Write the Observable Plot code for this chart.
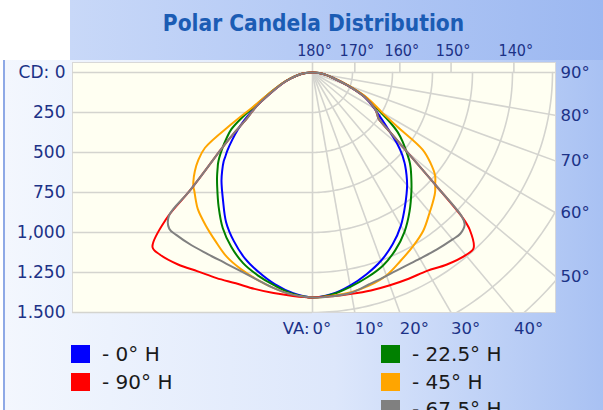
<!DOCTYPE html>
<html><head><meta charset="utf-8">
<script src="https://cdn.jsdelivr.net/npm/d3@7"></script>
<script src="https://cdn.jsdelivr.net/npm/@observablehq/plot@0.6"></script>
<style>
html,body{margin:0;padding:0;background:#fff;}
#wrap{position:relative;width:603px;height:410px;overflow:hidden;background:#fff;font-family:"DejaVu Sans",sans-serif;}
#bandTop{position:absolute;left:70px;top:0;width:533px;height:62px;background:linear-gradient(to right,#c8d8f8,#9cb8f1);}
#bandMain{position:absolute;left:3px;top:60px;width:600px;height:350px;background:linear-gradient(to right,#f3f7fe,#dde7fb 55%,#a8c1f3);border-left:2px solid #8ea9e6;}
#title{position:absolute;left:72px;width:483px;top:10px;text-align:center;font-family:"DejaVu Sans Condensed","DejaVu Sans",sans-serif;font-weight:bold;font-size:22.5px;color:#1b5cb4;line-height:26px;}
#chart{position:absolute;left:0;top:36px;}
.leg{position:absolute;height:22px;line-height:22px;font-size:20px;color:#1a1a1a;white-space:nowrap;}
.leg span.sw{display:inline-block;width:19px;height:18px;vertical-align:middle;margin-right:12px;position:relative;top:-2px;}
</style></head>
<body>
<div id="wrap">
  <div id="bandTop"></div>
  <div id="bandMain"></div>
  <div id="title">Polar Candela Distribution</div>
  <div id="chart"></div>
  <div id="legend"></div>
</div>
<script>
// ---- data (candela per vertical angle, left and right halves) ----
const seriesNames = ["0° H", "22.5° H", "45° H", "67.5° H", "90° H"];
const seriesColors = ["#0000ff", "#008000", "#ffa500", "#808080", "#ff0000"];
const vaAngles = [0, 5, 10, 15, 20, 25, 30, 35, 40, 42.5, 45, 46, 47.5, 50, 52.5, 55, 57.5, 60, 65, 70, 75, 80, 85, 90];

const cdH0Left     = [1406, 1385, 1345, 1293, 1236, 1163, 1080, 975, 885, 836, 785, 758, 722, 655, 590, 520, 450, 380, 270, 200, 140, 90, 42, 0];
const cdH0Right    = [1406, 1390, 1352, 1305, 1252, 1185, 1105, 1010, 920, 870, 818, 795, 760, 690, 610, 545, 490, 445, 355, 230, 135, 85, 40, 0];
const cdH22_5Left  = [1406, 1390, 1353, 1314, 1268, 1202, 1122, 1023, 927, 883, 838, 821, 791, 735, 678, 620, 520, 410, 285, 205, 142, 91, 43, 0];
const cdH22_5Right = [1406, 1393, 1360, 1325, 1285, 1225, 1150, 1058, 962, 915, 870, 852, 822, 765, 710, 650, 570, 485, 372, 238, 138, 86, 41, 0];
const cdH45Left    = [1406, 1395, 1370, 1340, 1308, 1270, 1215, 1165, 1115, 1080, 1045, 1034, 1010, 960, 900, 820, 600, 430, 285, 205, 142, 91, 43, 0];
const cdH45Right   = [1406, 1400, 1394, 1378, 1350, 1300, 1255, 1207, 1140, 1110, 1080, 1066, 1040, 1000, 930, 840, 625, 505, 380, 240, 138, 86, 41, 0];
const cdH67_5Left  = [1406, 1395, 1370, 1340, 1320, 1310, 1310, 1318, 1325, 1325, 1270, 1075, 915, 745, 610, 500, 440, 380, 270, 200, 140, 90, 42, 0];
const cdH67_5Right = [1406, 1404, 1398, 1370, 1352, 1342, 1343, 1352, 1362, 1367, 1345, 1300, 1050, 770, 610, 505, 478, 450, 358, 230, 135, 85, 40, 0];
const cdH90Left    = [1406, 1402, 1400, 1400, 1402, 1418, 1435, 1465, 1485, 1480, 1290, 1075, 915, 745, 610, 500, 440, 380, 270, 200, 140, 90, 42, 0];
const cdH90Right   = [1406, 1404, 1405, 1410, 1415, 1422, 1432, 1465, 1490, 1490, 1390, 1300, 1050, 770, 610, 505, 478, 450, 358, 230, 135, 85, 40, 0];

const seriesLeft  = [cdH0Left, cdH22_5Left, cdH45Left, cdH67_5Left, cdH90Left];
const seriesRight = [cdH0Right, cdH22_5Right, cdH45Right, cdH67_5Right, cdH90Right];
const drawOrder = [0, 1, 2, 4, 3];

const cdTicks = [0, 250, 500, 750, 1000, 1250, 1500];
const cdTickLabels = ["CD: 0", "250", "500", "750", "1,000", "1.250", "1.500"];
const vaBottomTicks = [0, 10, 20, 30, 40];
const vaTopTicks = [180, 170, 160, 150, 140];
const vaRightTicks = [90, 80, 70, 60, 50];
const vaGrid = [0, 10, 20, 30, 40, 50, 60, 70, 80, 90];
const ringGrid = [250, 500, 750, 1000, 1250, 1500, 1750, 2000, 2250, 2500];

// legend layout: [series index, column, row]
const legendItems = [[0, 0, 0], [4, 0, 1], [1, 1, 0], [2, 1, 1], [3, 1, 2]];

// ---- build ----
const deg = Math.PI / 180;
const xMin = -1500, xMax = 1518.75, yTop = -62.5, yBot = 1500;

const curvePts = [];
drawOrder.forEach(si => {
  const L = seriesLeft[si], R = seriesRight[si];
  const left = vaAngles.map((a, i) => ({s: si, x: -L[i] * Math.sin(a * deg), y: L[i] * Math.cos(a * deg)})).reverse();
  const right = vaAngles.slice(1).map((a, i) => ({s: si, x: R[i + 1] * Math.sin(a * deg), y: R[i + 1] * Math.cos(a * deg)}));
  curvePts.push(...left, ...right);
});

const arcPts = ringGrid.flatMap(r => d3.range(0, 90.001, 1).map(a => ({r, x: r * Math.sin(a * deg), y: r * Math.cos(a * deg)})));

const gridStroke = "#d4d4cf";
const labColor = "#1c3287";

const chart = Plot.plot({
  width: 603, height: 310,
  marginLeft: 72, marginRight: 48, marginTop: 26, marginBottom: 34,
  x: {domain: [xMin, xMax], axis: null},
  y: {domain: [yTop, yBot], reverse: true, axis: null},
  style: {background: "transparent", overflow: "visible"},
  marks: [
    Plot.frame({fill: "#fffff2", stroke: "#d8d8d8"}),
    Plot.ruleY(cdTicks, {y: d => d, x1: xMin, x2: 0, stroke: gridStroke, strokeWidth: 1.6}),
    Plot.line(arcPts, {x: "x", y: "y", z: "r", stroke: gridStroke, strokeWidth: 1.6, clip: true}),
    Plot.link(vaGrid, {x1: 0, y1: 0, x2: a => 4000 * Math.sin(a * deg), y2: a => 4000 * Math.cos(a * deg), stroke: gridStroke, strokeWidth: 1.6, clip: true}),
    Plot.ruleX(vaBottomTicks, {x: a => yBot * Math.tan(a * deg), y1: yTop, y2: 0, stroke: gridStroke, strokeWidth: 1.6}),
    Plot.line(curvePts, {x: "x", y: "y", z: "s", stroke: d => seriesColors[d.s], strokeWidth: 2, curve: "catmull-rom", clip: true}),
    Plot.text(cdTicks, {x: xMin, y: d => d, text: (d, i) => cdTickLabels[i], textAnchor: "end", dx: -7, fill: labColor, fontSize: 17, fontFamily: "DejaVu Sans"}),
    Plot.text(vaRightTicks, {x: xMax, y: a => Math.min(xMax / Math.tan(a * deg), 1e6), text: a => a + "°", textAnchor: "start", dx: 5, fill: labColor, fontSize: 16.5, fontFamily: "DejaVu Sans"}),
    Plot.text(vaBottomTicks, {x: a => yBot * Math.tan(a * deg), y: yBot, text: a => a + "°", textAnchor: "start", dy: 16, fill: labColor, fontSize: 16.5, fontFamily: "DejaVu Sans"}),
    Plot.text(["VA:"], {x: 0, y: yBot, text: d => d, textAnchor: "end", dx: -3, dy: 16, fill: labColor, fontSize: 16.5, fontFamily: "DejaVu Sans"}),
    Plot.text(vaTopTicks, {x: a => yBot * Math.tan((180 - a) * deg), y: yTop, text: a => a + "°", textAnchor: "middle", dx: 2, dy: -12, fill: labColor, fontSize: 16, fontFamily: "DejaVu Sans Condensed"})
  ]
});
document.getElementById("chart").appendChild(chart);

// legend
const legend = document.getElementById("legend");
const colX = [71, 381], rowY = [343, 371, 398];
legendItems.forEach(([si, c, r]) => {
  const d = document.createElement("div");
  d.className = "leg";
  d.style.left = colX[c] + "px";
  d.style.top = rowY[r] + "px";
  d.innerHTML = `<span class="sw" style="background:${seriesColors[si]}"></span>- ${seriesNames[si]}`;
  legend.appendChild(d);
});
</script>
</body></html>
